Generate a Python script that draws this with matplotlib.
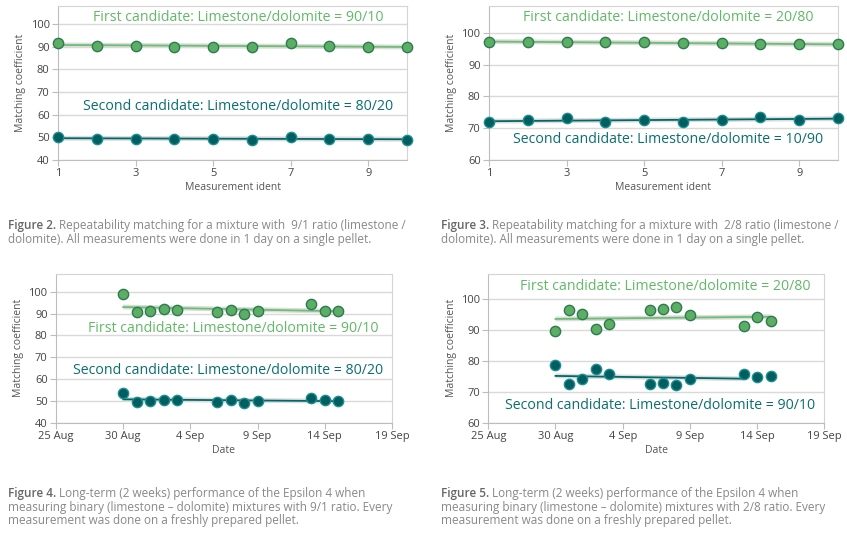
import numpy as np
import matplotlib
matplotlib.use("Agg")
import matplotlib.pyplot as plt
import matplotlib.dates as mdates
from datetime import date

plt.rcParams['font.family'] = ['Open Sans', 'DejaVu Sans']

# repeatability (figures 2 and 3)
ident = [1, 2, 3, 4, 5, 6, 7, 8, 9, 10]
fig2_first = [91.7, 90.4, 90.4, 90.0, 90.0, 89.8, 91.5, 90.3, 90.0, 89.8]
fig2_second = [50.0, 49.5, 49.5, 49.2, 49.2, 48.8, 50.0, 49.5, 49.3, 49.0]
fig3_first = [97.2, 97.2, 97.0, 97.0, 97.0, 96.7, 96.7, 96.4, 96.4, 96.5]
fig3_second = [72.0, 72.5, 73.3, 71.8, 72.6, 71.8, 72.6, 73.5, 72.7, 73.2]

# long term (figures 4 and 5)
days = ['2019-08-30', '2019-08-31', '2019-09-01', '2019-09-02', '2019-09-03', '2019-09-06',
        '2019-09-07', '2019-09-08', '2019-09-09', '2019-09-13', '2019-09-14', '2019-09-15']
fig4_first = [98.9, 90.9, 91.4, 92.1, 91.6, 90.9, 91.8, 90.0, 91.4, 94.4, 91.2, 91.2]
fig4_second = [53.6, 49.6, 49.9, 50.5, 50.2, 49.6, 50.2, 49.0, 49.9, 51.4, 50.2, 49.9]
fig5_first = [89.7, 96.5, 95.2, 90.3, 91.9, 96.5, 96.8, 97.4, 94.8, 91.2, 94.3, 92.9]
fig5_second = [78.7, 72.6, 74.1, 77.4, 75.7, 72.6, 73.0, 72.2, 74.3, 75.7, 74.8, 75.2]

captions = [
    ("Figure 2.", ["Repeatability matching for a mixture with  9/1 ratio (limestone /",
                   "dolomite). All measurements were done in 1 day on a single pellet."]),
    ("Figure 3.", ["Repeatability matching for a mixture with  2/8 ratio (limestone /",
                   "dolomite). All measurements were done in 1 day on a single pellet."]),
    ("Figure 4.", ["Long-term (2 weeks) performance of the Epsilon 4 when",
                   "measuring binary (limestone \u2013 dolomite) mixtures with 9/1 ratio. Every",
                   "measurement was done on a freshly prepared pellet."]),
    ("Figure 5.", ["Long-term (2 weeks) performance of the Epsilon 4 when",
                   "measuring binary (limestone \u2013 dolomite) mixtures with 2/8 ratio. Every",
                   "measurement was done on a freshly prepared pellet."]),
]

GREEN = '#5cae64'
GREEN_EDGE = '#2c7a4e'
GREEN_LINE = '#6cbf72'
GREEN_TEXT = '#62b967'
TEAL = '#005e60'
TEAL_EDGE = '#1a8e90'
TEAL_LINE = '#00686a'
TEAL_TEXT = '#0b6e70'

fig = plt.figure(figsize=(8.47, 5.40), dpi=100)


def style_axes(ax):
    for s in ['top', 'right']:
        ax.spines[s].set_color('#d4d4d4')
    for s in ['left', 'bottom']:
        ax.spines[s].set_color('#bdbdbd')
    ax.yaxis.grid(True, color='#d9d9d9', lw=1)
    ax.set_axisbelow(True)
    ax.tick_params(axis='both', colors='#bdbdbd', labelcolor='#444444', labelsize=8,
                   length=4, width=0.8, pad=2)
    ax.set_ylabel('Matching coefficient', fontsize=7.5, color='#555555', labelpad=3)


def series(ax, x, y, xnum, color, edge, lcolor, end=None):
    xn = np.asarray(xnum, dtype=float)
    k, b = np.polyfit(xn, y, 1)
    x1 = xn[-1] if end is None else end
    xs = np.array([xn[0], x1])
    ax.plot(xs, k * xs + b, color='#dddddd', lw=3.5, solid_capstyle='butt', zorder=2)
    ax.plot(xs, k * xs + b, color=lcolor, lw=1.3, zorder=3)
    ax.plot(xnum, y, 'o', ms=7.4, mfc=color, mec=edge, mew=1.0, zorder=4, clip_on=False)


def label(ax, x, y, s, color):
    ax.text(x, y, s, color=color, fontsize=10.2, ha='center', va='center')


# figure 2
ax1 = fig.add_axes([0.0685, 0.7037, 0.412, 0.285])
style_axes(ax1)
series(ax1, ident, fig2_first, ident, GREEN, GREEN_EDGE, GREEN_LINE)
series(ax1, ident, fig2_second, ident, TEAL, TEAL_EDGE, TEAL_LINE)
ax1.set_xlim(1, 10)
ax1.set_ylim(40, 108)
ax1.set_yticks(range(40, 101, 10))
ax1.set_xticks([1, 3, 5, 7, 9])
ax1.set_xlabel('Measurement ident', fontsize=7.5, color='#555555', labelpad=2)
label(ax1, 5.64, 103, 'First candidate: Limestone/dolomite = 90/10', GREEN_TEXT)
label(ax1, 5.64, 63.8, 'Second candidate: Limestone/dolomite = 80/20', TEAL_TEXT)

# figure 3
ax2 = fig.add_axes([0.5773, 0.7037, 0.412, 0.285])
style_axes(ax2)
series(ax2, ident, fig3_first, ident, GREEN, GREEN_EDGE, GREEN_LINE)
series(ax2, ident, fig3_second, ident, TEAL, TEAL_EDGE, TEAL_LINE)
ax2.set_xlim(1, 10)
ax2.set_ylim(60, 108.4)
ax2.set_yticks(range(60, 101, 10))
ax2.set_xticks([1, 3, 5, 7, 9])
ax2.set_xlabel('Measurement ident', fontsize=7.5, color='#555555', labelpad=2)
label(ax2, 5.62, 104.9, 'First candidate: Limestone/dolomite = 20/80', GREEN_TEXT)
label(ax2, 5.62, 66.3, 'Second candidate: Limestone/dolomite = 10/90', TEAL_TEXT)

# figures 4 and 5 (dates)
dts = [date.fromisoformat(d) for d in days]
dnum = mdates.date2num(dts)
x0 = mdates.date2num(date(2019, 8, 25))
x1 = mdates.date2num(date(2019, 9, 19))
date_ticks = [x0 + 5 * i for i in range(6)]
fmt = plt.FuncFormatter(lambda v, p: '%d %s' % (mdates.num2date(v).day, mdates.num2date(v).strftime('%b')))


def date_axes(rect, ylo):
    ax = fig.add_axes(rect)
    style_axes(ax)
    ax.set_xlim(x0, x1)
    ax.set_xticks(date_ticks)
    ax.xaxis.set_major_formatter(fmt)
    ax.set_ylim(ylo, 108.2)
    ax.set_yticks(range(ylo, 101, 10))
    ax.set_xlabel('Date', fontsize=7.5, color='#555555', labelpad=2)
    return ax


ax3 = date_axes([0.0661, 0.2172, 0.3967, 0.2754], 40)
series(ax3, dts, fig4_first, dnum, GREEN, GREEN_EDGE, GREEN_LINE)
series(ax3, dts, fig4_second, dnum, TEAL, TEAL_EDGE, TEAL_LINE)
label(ax3, x0 + 13.16, 83.1, 'First candidate: Limestone/dolomite = 90/10', GREEN_TEXT)
label(ax3, x0 + 12.83, 63.75, 'Second candidate: Limestone/dolomite = 80/20', TEAL_TEXT)

ax4 = date_axes([0.5765, 0.2172, 0.3967, 0.2754], 60)
series(ax4, dts, fig5_first, dnum, GREEN, GREEN_EDGE, GREEN_LINE)
series(ax4, dts, fig5_second, dnum, TEAL, TEAL_EDGE, TEAL_LINE, end=dnum[9])
label(ax4, x0 + 13.17, 104.1, 'First candidate: Limestone/dolomite = 20/80', GREEN_TEXT)
label(ax4, x0 + 12.8, 65.7, 'Second candidate: Limestone/dolomite = 90/10', TEAL_TEXT)

# captions
cap_pos = [(8, 229), (441, 229), (8, 497), (441, 497)]
fig.canvas.draw()
for (head, lines), (px, py) in zip(captions, cap_pos):
    t = fig.text(px / 847, 1 - py / 540, head, fontsize=8.5, fontweight='semibold',
                 color='#666666', va='baseline', ha='left')
    bb = t.get_window_extent(renderer=fig.canvas.get_renderer())
    fig.text((bb.x1 + 3) / 847, 1 - py / 540, lines[0], fontsize=8.5, color='#888888',
             va='baseline', ha='left')
    for i, line in enumerate(lines[1:], start=1):
        fig.text(px / 847, 1 - (py + 13.6 * i) / 540, line, fontsize=8.5, color='#888888',
                 va='baseline', ha='left')

fig.savefig('out.png', dpi=100)
